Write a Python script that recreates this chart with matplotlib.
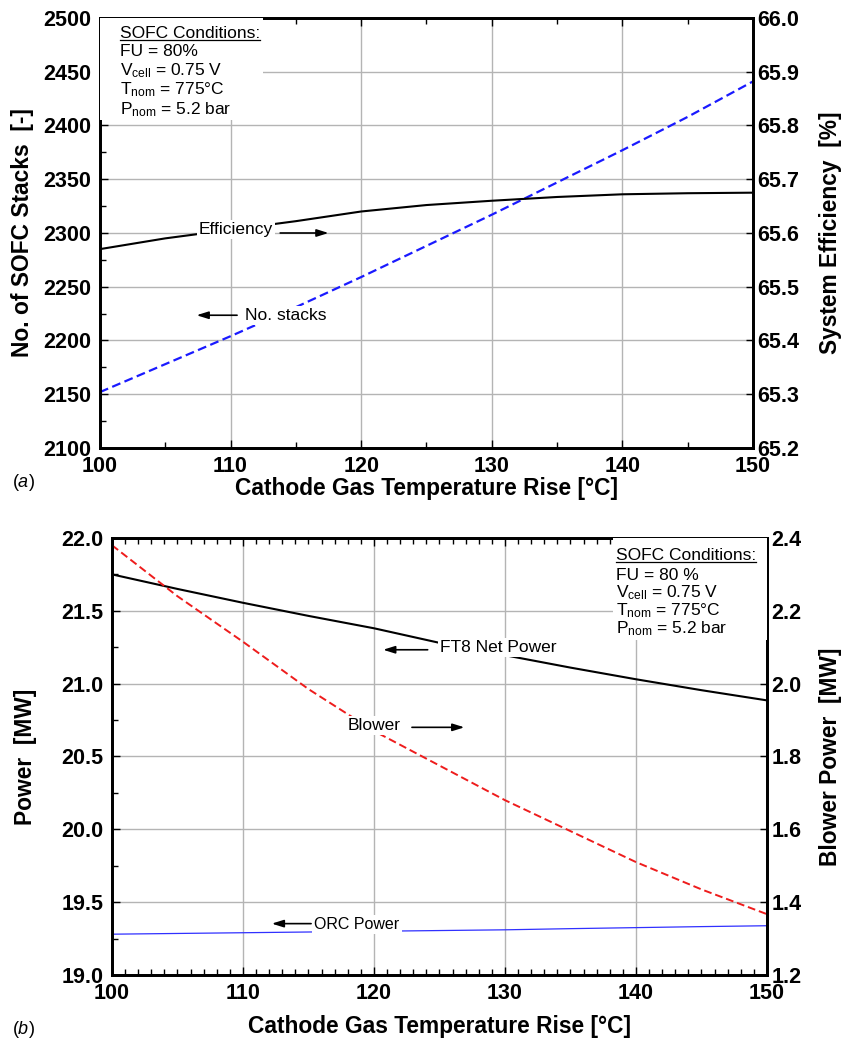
import matplotlib

matplotlib.use("Agg")
import matplotlib.pyplot as plt
from matplotlib.lines import Line2D
from matplotlib.patches import Rectangle
from matplotlib.ticker import FormatStrFormatter, MultipleLocator

plt.rcParams["font.family"] = ["Liberation Sans", "DejaVu Sans"]
plt.rcParams["mathtext.fontset"] = "custom"
plt.rcParams["mathtext.rm"] = "Liberation Sans"
plt.rcParams["mathtext.it"] = "Liberation Sans:italic"
plt.rcParams["mathtext.bf"] = "Liberation Sans:bold"

# --- data ------------------------------------------------------------------
temp_rise = [100, 105, 110, 115, 120, 125, 130, 135, 140, 145, 150]

# panel (a)
n_stacks = [2152, 2178, 2204, 2231, 2259, 2288, 2317, 2347, 2377, 2408, 2441]
sys_eff = [65.570, 65.590, 65.606, 65.622, 65.640, 65.652, 65.660, 65.667,
           65.672, 65.674, 65.675]

# panel (b)
ft8_power = [21.75, 21.65, 21.555, 21.465, 21.38, 21.28, 21.195, 21.11,
             21.03, 20.955, 20.885]
orc_power = [19.28, 19.285, 19.29, 19.295, 19.30, 19.305, 19.31, 19.318,
             19.325, 19.332, 19.338]
blower_power = [2.38, 2.24, 2.115, 1.985, 1.87, 1.775, 1.68, 1.595, 1.51,
                1.435, 1.367]

sofc_a = ["SOFC Conditions:", "FU = 80%", r"V$_{\mathrm{cell}}$ = 0.75 V",
          r"T$_{\mathrm{nom}}$ = 775°C", r"P$_{\mathrm{nom}}$ = 5.2 bar"]
sofc_b = ["SOFC Conditions:", "FU = 80 %", r"V$_{\mathrm{cell}}$ = 0.75 V",
          r"T$_{\mathrm{nom}}$ = 775°C", r"P$_{\mathrm{nom}}$ = 5.2 bar"]

xlabel = "Cathode Gas Temperature Rise [°C]"
TICK_FS = 15.5
LABEL_FS = 16.4
NOTE_FS = 12.5
GRID = "#b4b4b4"

fig = plt.figure(figsize=(8.47, 10.46), dpi=100)
ax_a = fig.add_axes([0.118, 0.5717, 0.771, 0.4111])
ax_b = fig.add_axes([0.1322, 0.0679, 0.7733, 0.4178])


def style_axes(ax, twin, xminor, yminor):
    ax.set_xlim(100, 150)
    ax.xaxis.set_major_locator(MultipleLocator(10))
    ax.xaxis.set_minor_locator(MultipleLocator(xminor))
    ax.yaxis.set_minor_locator(MultipleLocator(yminor))
    ax.grid(True, which="major", color=GRID, lw=1.0)
    ax.set_axisbelow(True)
    ax.tick_params(which="both", direction="in", top=True, right=False,
                   width=1.0)
    ax.tick_params(which="major", length=6, labelsize=TICK_FS, pad=6)
    ax.tick_params(which="minor", length=4)
    twin.tick_params(which="both", direction="in", length=5, width=1.0,
                     labelsize=TICK_FS, pad=3)
    for a in (ax, twin):
        for sp in a.spines.values():
            sp.set_linewidth(2.0)
        for lab in a.get_xticklabels() + a.get_yticklabels():
            lab.set_fontweight("bold")


def note_box(ax, lines, x0, ys, rect):
    ax.add_patch(Rectangle(rect[:2], rect[2], rect[3], transform=ax.transAxes,
                           facecolor="white", edgecolor="none", zorder=3))
    texts = []
    for s, y in zip(lines, ys):
        texts.append(ax.text(x0, y, s, transform=ax.transAxes, fontsize=NOTE_FS,
                             va="center", ha="left", zorder=6))
    return texts[0]


def arrow_note(ax, text, txy, start, end, fs=NOTE_FS):
    ax.text(txy[0], txy[1], text, fontsize=fs, ha="center", va="center",
            zorder=6, bbox=dict(facecolor="white", edgecolor="none", pad=1.5))
    ax.annotate("", xy=end, xytext=start, zorder=6,
                arrowprops=dict(arrowstyle="-|>,head_length=0.7,head_width=0.22",
                                color="black", lw=1.2, shrinkA=0, shrinkB=0))


# --- panel (a) ---------------------------------------------------------------
ax_a2 = ax_a.twinx()
ax_a.plot(temp_rise, n_stacks, color="#1a1aff", lw=1.6, ls=(0, (4, 2)),
          zorder=2)
ax_a2.plot(temp_rise, sys_eff, color="black", lw=1.5, zorder=2)
ax_a.set_ylim(2100, 2500)
ax_a.yaxis.set_major_locator(MultipleLocator(50))
ax_a2.set_ylim(65.2, 66.0)
ax_a2.yaxis.set_major_locator(MultipleLocator(0.1))
ax_a2.yaxis.set_major_formatter(FormatStrFormatter("%.1f"))
style_axes(ax_a, ax_a2, 5, 25)
ax_a.set_xlabel(xlabel, fontsize=LABEL_FS, fontweight="bold", labelpad=0)
ax_a.set_ylabel("No. of SOFC Stacks  [-]", fontsize=LABEL_FS,
                fontweight="bold", labelpad=7)
ax_a2.set_ylabel("System Efficiency  [%]", fontsize=LABEL_FS,
                 fontweight="bold", labelpad=14)

ua = note_box(ax_a2, sofc_a, 0.031, [0.965, 0.921, 0.877, 0.833, 0.788],
              (0.0, 0.763, 0.25, 0.237))
arrow_note(ax_a2, "Efficiency", (110.4, 65.607), (113.8, 65.6), (117.5, 65.6))
arrow_note(ax_a2, "No. stacks", (114.2, 65.447), (110.5, 65.447),
           (107.4, 65.447))
fig.text(0.014, 0.539, "($\\mathit{a}$)", fontsize=13, va="center")

# --- panel (b) ---------------------------------------------------------------
ax_b2 = ax_b.twinx()
ax_b.plot(temp_rise, ft8_power, color="black", lw=1.5, zorder=2)
ax_b.plot(temp_rise, orc_power, color="#3030ff", lw=0.9, zorder=2)
ax_b2.plot(temp_rise, blower_power, color="#ee1c1c", lw=1.4, ls=(0, (4, 2)),
           zorder=2)
ax_b.set_ylim(19.0, 22.0)
ax_b.yaxis.set_major_locator(MultipleLocator(0.5))
ax_b.yaxis.set_major_formatter(FormatStrFormatter("%.1f"))
ax_b2.set_ylim(1.2, 2.4)
ax_b2.yaxis.set_major_locator(MultipleLocator(0.2))
ax_b2.yaxis.set_major_formatter(FormatStrFormatter("%.1f"))
style_axes(ax_b, ax_b2, 1, 0.25)
ax_b.set_xlabel(xlabel, fontsize=LABEL_FS, fontweight="bold", labelpad=8)
ax_b.set_ylabel("Power  [MW]", fontsize=LABEL_FS, fontweight="bold",
                labelpad=18)
ax_b2.set_ylabel("Blower Power  [MW]", fontsize=LABEL_FS, fontweight="bold",
                 labelpad=13)

ub = note_box(ax_b2, sofc_b, 0.769, [0.959, 0.915, 0.874, 0.833, 0.792],
              (0.765, 0.767, 0.235, 0.233))
# note positions given in right-axis (blower) units
arrow_note(ax_b2, "FT8 Net Power", (129.5, 2.0994), (124.1, 2.093),
           (120.7, 2.093))
arrow_note(ax_b2, "Blower", (120.0, 1.886), (122.9, 1.880), (126.9, 1.880))
arrow_note(ax_b2, "ORC Power", (118.7, 1.339), (115.2, 1.341), (112.2, 1.341),
           fs=11.5)
fig.text(0.014, 0.016, "($\\mathit{b}$)", fontsize=13, va="center")

# underline the "SOFC Conditions:" headers
fig.canvas.draw()
renderer = fig.canvas.get_renderer()
for t in (ua, ub):
    bb = t.get_window_extent(renderer)
    y = bb.y0 + 1
    fig.add_artist(Line2D([bb.x0, bb.x1], [y, y], transform=None,
                          color="black", lw=0.9, zorder=7))

fig.savefig("out.png", dpi=100)
